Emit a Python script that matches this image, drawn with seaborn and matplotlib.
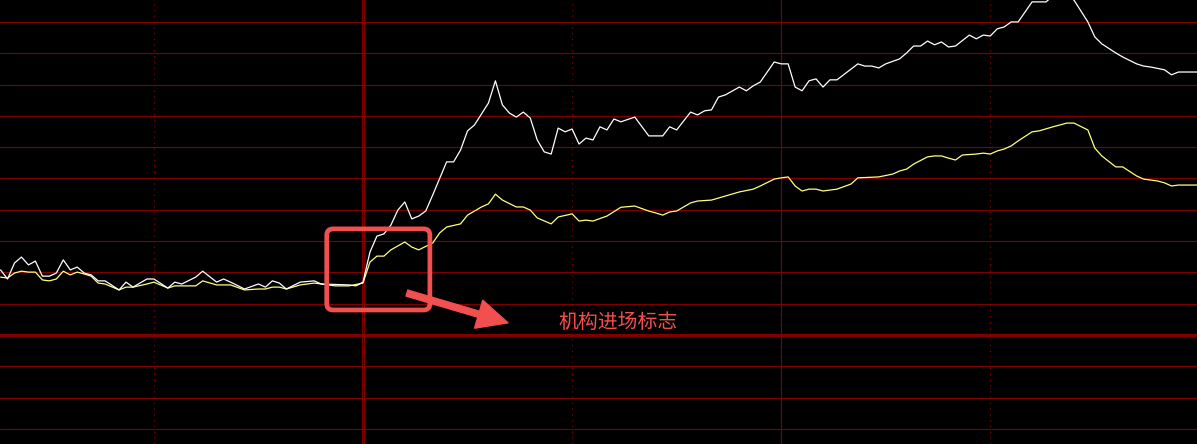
import matplotlib
matplotlib.use("Agg")
import matplotlib.pyplot as plt
from matplotlib.patches import FancyBboxPatch
import seaborn as sns
import pandas as pd

# intraday price line (white) and average price line (yellow)
# minute index (120 = 11:30/13:00 break), change in % vs prev close
white = [
    (68, 2.08), (69, 1.79), (70, 2.30), (71, 2.49), (72, 2.24), (73, 2.36), (74, 1.88), (75, 1.88),
    (76, 1.98), (77, 2.40), (78, 2.08), (79, 2.17), (80, 1.98), (81, 1.92), (82, 1.73), (83, 1.73),
    (85, 1.44), (86, 1.69), (87, 1.53), (89, 1.79), (90, 1.79), (92, 1.50), (93, 1.69), (94, 1.63),
    (96, 1.85), (97, 2.04), (99, 1.69), (100, 1.79), (101, 1.69), (103, 1.47), (105, 1.63), (106, 1.53),
    (107, 1.73), (108, 1.66), (109, 1.47), (111, 1.69), (113, 1.73), (114, 1.63), (118, 1.60), (119, 1.57),
    (120, 1.69), (121, 2.65), (122, 3.16), (123, 3.23), (124, 3.51), (125, 3.99), (126, 4.25), (127, 3.71),
    (128, 3.80), (129, 3.96), (130, 4.47), (132, 5.53), (133, 5.53), (134, 5.91), (135, 6.52), (136, 6.71),
    (138, 7.41), (139, 8.12), (140, 7.35), (141, 7.09), (142, 6.96), (143, 7.12), (144, 6.93), (145, 6.23),
    (146, 5.85), (147, 5.78), (148, 6.61), (149, 6.49), (150, 6.58), (151, 6.10), (152, 6.29), (153, 6.23),
    (154, 6.65), (155, 6.55), (156, 6.90), (157, 6.81), (159, 6.96), (161, 6.36), (163, 6.36), (164, 6.65),
    (165, 6.55), (167, 7.12), (168, 7.03), (169, 7.16), (170, 7.19), (171, 7.60), (172, 7.67), (174, 7.92),
    (175, 7.80), (176, 7.96), (177, 8.08), (179, 8.72), (180, 8.66), (181, 8.66), (182, 7.92), (183, 7.80),
    (184, 8.12), (185, 8.18), (186, 7.92), (187, 8.15), (188, 8.15), (191, 8.66), (192, 8.59), (193, 8.59),
    (194, 8.53), (195, 8.66), (197, 8.82), (198, 9.01), (199, 9.23), (200, 9.23), (201, 9.39), (202, 9.27),
    (203, 9.36), (204, 9.20), (205, 9.23), (207, 9.58), (208, 9.46), (209, 9.58), (210, 9.55), (211, 9.78),
    (212, 9.84), (213, 10.00), (214, 10.00), (215, 10.32), (216, 10.64), (217, 10.64), (218, 10.64),
    (219, 10.83), (221, 10.83), (222, 10.70), (224, 10.00), (225, 9.52), (226, 9.30), (228, 9.01),
    (229, 8.88), (231, 8.66), (232, 8.59), (233, 8.56), (235, 8.47), (236, 8.31), (237, 8.40), (240, 8.40),
]
yellow = [
    (68, 1.85), (69, 1.82), (70, 1.98), (71, 2.04), (72, 2.01), (73, 2.01), (74, 1.76), (75, 1.73),
    (76, 1.79), (77, 2.04), (78, 1.92), (79, 2.01), (80, 1.95), (81, 1.88), (82, 1.66), (83, 1.63),
    (85, 1.44), (86, 1.53), (87, 1.53), (89, 1.63), (90, 1.69), (92, 1.50), (93, 1.57), (96, 1.57),
    (97, 1.73), (99, 1.60), (101, 1.60), (103, 1.44), (105, 1.47), (106, 1.47), (107, 1.53), (108, 1.53),
    (109, 1.47), (111, 1.60), (113, 1.66), (114, 1.63), (116, 1.57), (118, 1.57), (120, 1.66), (121, 2.33),
    (122, 2.52), (123, 2.52), (124, 2.72), (126, 2.97), (127, 2.81), (128, 2.72), (130, 2.94), (131, 3.26),
    (132, 3.45), (134, 3.55), (135, 3.83), (137, 4.09), (138, 4.19), (139, 4.50), (140, 4.31), (142, 4.09),
    (143, 4.09), (144, 3.99), (145, 3.74), (147, 3.55), (148, 3.77), (150, 3.87), (151, 3.64), (152, 3.67),
    (153, 3.64), (155, 3.80), (157, 4.08), (159, 4.12), (161, 3.96), (162, 3.90), (163, 3.83), (164, 3.93),
    (165, 3.96), (167, 4.22), (168, 4.28), (170, 4.31), (172, 4.44), (174, 4.57), (176, 4.66), (177, 4.76),
    (179, 4.98), (180, 5.02), (181, 5.05), (182, 4.76), (183, 4.60), (184, 4.66), (185, 4.66), (186, 4.60),
    (187, 4.63), (188, 4.66), (190, 4.82), (191, 5.02), (194, 5.05), (196, 5.14), (197, 5.24), (198, 5.30),
    (199, 5.46), (201, 5.69), (202, 5.72), (203, 5.72), (204, 5.65), (205, 5.59), (206, 5.75), (208, 5.78),
    (209, 5.81), (210, 5.78), (211, 5.88), (212, 5.94), (213, 6.04), (214, 6.20), (216, 6.49), (217, 6.52),
    (219, 6.65), (221, 6.77), (222, 6.77), (224, 6.55), (225, 5.97), (226, 5.72), (228, 5.37), (229, 5.37),
    (231, 5.08), (232, 4.98), (234, 4.92), (235, 4.86), (236, 4.76), (237, 4.79), (240, 4.79),
]
white_min, white_pct = zip(*white)
yellow_min, yellow_pct = zip(*yellow)

label_text = "机构进场标志"

RED = "#800000"
MARK = "#f24f4f"

sns.set_style("dark")
plt.rcParams["font.family"] = ["Noto Sans CJK SC", "DejaVu Sans"]

fig = plt.figure(figsize=(11.97, 4.44), dpi=100, facecolor="black")
ax = fig.add_axes([0, 0, 1, 1])
ax.set_facecolor("black")

# horizontal grid, thick line = previous close
for lvl in range(-3, 12):
    ax.axhline(lvl, color=RED, lw=2.2 if lvl == 0 else 0.8, zorder=1)

# vertical half-hour lines
for m in (90, 150, 210):
    ax.axvline(m, color=RED, lw=0.8, ls=(0, (1.2, 4)), zorder=1)
ax.axvline(180, color=RED, lw=0.8, zorder=1)
ax.axvline(119.85, color=RED, lw=0.8, zorder=1)
ax.axvline(120.2, color=RED, lw=0.8, zorder=1)

df_w = pd.DataFrame({"min": white_min, "pct": white_pct})
df_y = pd.DataFrame({"min": yellow_min, "pct": yellow_pct})
sns.lineplot(data=df_y, x="min", y="pct", ax=ax, color="#ffff80", lw=0.9, zorder=3)
sns.lineplot(data=df_w, x="min", y="pct", ax=ax, color="white", lw=0.9, zorder=4)

ax.set_xlim(67.92, 239.66)
ax.set_ylim(-3.48, 10.70)

# annotation box, arrow, label
box = FancyBboxPatch((114.8, 0.80), 129.6 - 114.8, 3.39 - 0.80,
                     boxstyle="round,pad=0,rounding_size=0.9", mutation_aspect=0.2226,
                     fill=False, ec=MARK, lw=3.4, zorder=5)
ax.add_patch(box)
ax.annotate("", xy=(140.8, 0.39), xytext=(126.3, 1.34),
            arrowprops=dict(arrowstyle="simple,head_length=2.2,head_width=2.1,tail_width=0.45",
                            color=MARK, mutation_scale=10, shrinkA=0, shrinkB=0), zorder=6)
ax.text(148.1, 0.39, label_text, color=MARK, fontsize=14.3, va="center", ha="left",
        family=["Noto Sans CJK SC", "DejaVu Sans"], zorder=6)

ax.set_xlabel("")
ax.set_ylabel("")
ax.set_xticks([])
ax.set_yticks([])
for s in ax.spines.values():
    s.set_visible(False)

fig.savefig("out.png", dpi=100, facecolor="black")
